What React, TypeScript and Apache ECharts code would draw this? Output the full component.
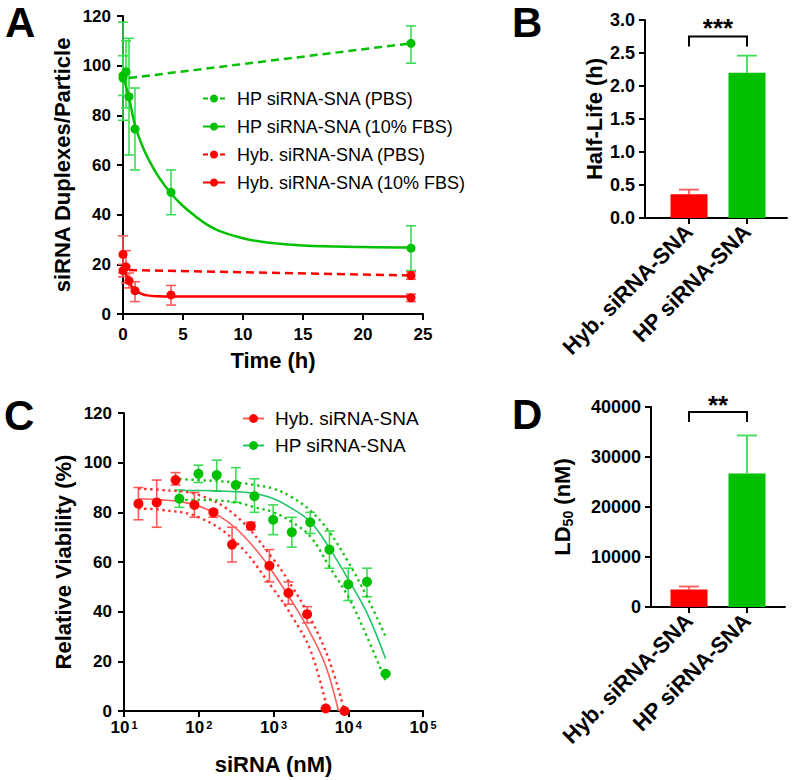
import React, { useEffect, useRef } from "react";
import * as echarts from "echarts";

// ---------- Panel A data (time in h, duplexes/particle) ----------
const hpFbsTime = [0, 0.25, 0.5, 1, 4, 24];
const hpFbsMean = [95, 97.5, 87.5, 74.5, 49, 26.5];
const hpFbsLow = [78, 83, 64, 58, 40, 17.5];
const hpFbsHigh = [117.5, 110, 111, 91, 58, 35.5];
const hpPbsTime = [0, 24];
const hpPbsMean = [96, 109];
const hpPbsLow = [88, 101];
const hpPbsHigh = [104, 116];
const hybFbsTime = [0, 0.25, 0.5, 1, 4, 24];
const hybFbsMean = [24, 19, 13.4, 9.4, 7.7, 6.5];
const hybFbsLow = [16.5, 12.5, 10.5, 5, 3.6, 5];
const hybFbsHigh = [31.5, 25.5, 16.5, 13, 11.5, 8];
const hybPbsTime = [0, 24];
const hybPbsMean = [17.5, 15.5];
const hybPbsLow = [15, 14];
const hybPbsHigh = [20, 17];

// fitted curves
const hpFbsFit = [[0, 96], [0.5, 87], [1, 76], [1.5, 69], [2, 63.5], [3, 55], [4, 48.5], [5, 43.5], [6, 39.5], [7, 36], [8, 33.5], [10, 30.5], [12, 28.8], [15, 27.6], [20, 27], [24, 26.8]];
const hpPbsFit = [[0.5, 95], [24, 109]];
const hybFbsFit = [[0, 20], [0.25, 16], [0.5, 13], [0.75, 11], [1, 9.6], [1.5, 8.2], [2, 7.5], [3, 7.1], [4, 7], [24, 7]];
const hybPbsFit = [[0.5, 17.7], [24, 15.5]];

const legendA = ["HP siRNA-SNA (PBS)", "HP siRNA-SNA (10% FBS)", "Hyb. siRNA-SNA (PBS)", "Hyb. siRNA-SNA (10% FBS)"];
const legendADashed = [true, false, true, false];

// ---------- Panel B / D ----------
const barCategories = ["Hyb. siRNA-SNA", "HP siRNA-SNA"];
const halfLife = [0.36, 2.2];
const halfLifeHigh = [0.43, 2.46];
const ld50 = [3500, 26700];
const ld50High = [4100, 34300];

// ---------- Panel C data (siRNA nM, viability %) ----------
const hybConc = [15.6, 27.4, 49, 87.5, 157, 279, 497, 881, 1585, 2818, 5000, 8900];
const hybViab = [83.5, 84, 93, 83, 80, 67, 74.5, 58.5, 47.5, 39, 1, 0];
const hybViabLow = [77, 74, 91, 78, 78, 60, 73, 52, 43, 35.5, 1, 0];
const hybViabHigh = [90, 93, 96, 88, 81, 74, 76, 65, 52, 42, 1, 0];
const hpConc = [55, 99, 174, 313, 556, 989, 1758, 3100, 5600, 10000, 17800, 31600];
const hpViab = [85.5, 95.5, 95, 91, 86.5, 77, 72, 76, 65, 51, 52, 15];
const hpViabLow = [82, 92, 88.5, 84, 80, 71, 66, 71.5, 57.5, 44.5, 46, 15];
const hpViabHigh = [89, 99, 101, 98, 93.5, 83, 78, 80, 72.5, 57.5, 57.5, 15];

const hybFit = [[15.5, 85.5], [31.6, 85], [56, 84.3], [100, 82.5], [178, 79], [316, 73.5], [562, 65.5], [1000, 55.5], [1778, 44], [3162, 31], [5012, 18], [7400, 0]];
const hybUpper = [[15.5, 89.5], [31.6, 89], [100, 87], [316, 78.5], [1000, 61], [1778, 50], [3162, 37], [5623, 20], [8900, 0]];
const hybLower = [[15.5, 81.5], [31.6, 81], [100, 78], [316, 68], [1000, 49], [1778, 38], [3162, 24], [5300, 0]];
const hpFit = [[55, 88.8], [100, 88.8], [316, 88.3], [562, 87.5], [1000, 85.5], [1778, 81.5], [3162, 76], [5623, 65.5], [10000, 53], [17783, 39.5], [31600, 21]];
const hpUpper = [[55, 93.4], [100, 93], [316, 92], [562, 91], [1000, 89.5], [1778, 86], [3162, 80.5], [5623, 72], [10000, 60], [17783, 46], [31600, 30]];
const hpLower = [[55, 85], [100, 85], [316, 84], [562, 82], [1000, 80], [1778, 76], [3162, 70], [5623, 58], [10000, 46], [17783, 30], [31600, 12]];

const FONT = "'Liberation Sans', Arial, sans-serif";
const GREEN = "#00c000";
const GREEN_ERR = "#3ddc55";
const RED = "#ff0000";
const RED_ERR = "#ff5a5a";

function zip3(a: number[], b: number[], c: number[]) {
  return a.map((v, i) => [v, b[i], c[i]]);
}
function zip2(a: number[], b: number[]) {
  return a.map((v, i) => [v, b[i]]);
}

function errRender(half: number, color: string, width: number, upperOnly = false) {
  return (_p: any, api: any) => {
    const x = api.value(0);
    const lo = api.value(1);
    const hi = api.value(2);
    const a = api.coord([x, lo]);
    const b = api.coord([x, hi]);
    const st = { stroke: color, lineWidth: width };
    const children: any[] = [
      { type: "line", shape: { x1: a[0], y1: a[1], x2: b[0], y2: b[1] }, style: st },
      { type: "line", shape: { x1: b[0] - half, y1: b[1], x2: b[0] + half, y2: b[1] }, style: st },
    ];
    if (!upperOnly) children.push({ type: "line", shape: { x1: a[0] - half, y1: a[1], x2: a[0] + half, y2: a[1] }, style: st });
    return { type: "group", children };
  };
}

function bracketRender(textGap: number, stars: string) {
  return (_p: any, api: any) => {
    const top = api.value(2);
    const leg = api.value(3);
    const a = api.coord([api.value(0), leg]);
    const b = api.coord([api.value(0), top]);
    const c = api.coord([api.value(1), top]);
    const d = api.coord([api.value(1), leg]);
    return {
      type: "group",
      children: [
        { type: "polyline", shape: { points: [a, b, c, d] }, style: { stroke: "#000", lineWidth: 2, fill: "none" } },
        {
          type: "text",
          x: (b[0] + c[0]) / 2,
          y: b[1] - textGap,
          style: { text: stars, fontSize: 26, fontWeight: "bold", fontFamily: FONT, fill: "#000", align: "center", verticalAlign: "middle" },
        },
      ],
    };
  };
}

const tickLabel = { fontSize: 17, fontWeight: "bold" as const, fontFamily: FONT, color: "#000" };
const tickLabelBar = { fontSize: 18, fontWeight: "bold" as const, fontFamily: FONT, color: "#000" };
const axisLineStyle = { show: true, lineStyle: { color: "#000", width: 2 } };
const axisTickStyle = { show: true, length: 6, lineStyle: { color: "#000", width: 2 } };
const titleStyle = { fontSize: 22, fontWeight: "bold" as const, fontFamily: FONT, color: "#000" };
const letterStyle = { fontSize: 42, fontWeight: "bold", fontFamily: FONT, fill: "#000", verticalAlign: "top" };

export default function App() {
  const ref = useRef<HTMLDivElement>(null);
  useEffect(() => {
    if (!ref.current) return;
    const chart = echarts.init(ref.current, undefined, { renderer: "svg" });
    const option: any = {
      animation: false,
      backgroundColor: "#fff",
      grid: [
        { left: 123, top: 16, width: 300, height: 298 },
        { left: 645, top: 20, width: 142, height: 198 },
        { left: 660, top: 20, width: 116, height: 198 },
        { left: 124, top: 413, width: 299, height: 298 },
        { left: 651, top: 407, width: 134, height: 200 },
        { left: 660, top: 407, width: 116, height: 200 },
      ],
      xAxis: [
        {
          gridIndex: 0, type: "value", min: 0, max: 25, interval: 5,
          axisLine: axisLineStyle, axisTick: axisTickStyle, splitLine: { show: false },
          axisLabel: { ...tickLabel, margin: 12 },
          name: "Time (h)", nameLocation: "middle", nameGap: 35, nameTextStyle: titleStyle,
        },
        { gridIndex: 1, type: "value", min: 0, max: 1, axisLine: axisLineStyle, axisTick: { show: false }, axisLabel: { show: false }, splitLine: { show: false } },
        {
          gridIndex: 2, type: "category", data: barCategories,
          axisLine: { show: false }, axisTick: { ...axisTickStyle, alignWithLabel: true },
          axisLabel: { ...tickLabel, fontSize: 22, rotate: 45, margin: 10 },
        },
        {
          gridIndex: 3, type: "log", logBase: 10, min: 10, max: 100000,
          axisLine: axisLineStyle, axisTick: axisTickStyle, splitLine: { show: false }, minorTick: { show: false },
          axisLabel: {
            margin: 8,
            formatter: (v: number) => `{b|10}{s|${Math.round(Math.log10(v))}}`,
            rich: {
              b: { fontSize: 17, fontWeight: "bold", fontFamily: FONT, color: "#000" },
              s: { fontSize: 11, fontWeight: "bold", fontFamily: FONT, color: "#000", verticalAlign: "top", padding: [0, 0, 0, 2] },
            },
          },
          name: "siRNA (nM)", nameLocation: "middle", nameGap: 42, nameTextStyle: titleStyle,
        },
        { gridIndex: 4, type: "value", min: 0, max: 1, axisLine: axisLineStyle, axisTick: { show: false }, axisLabel: { show: false }, splitLine: { show: false } },
        {
          gridIndex: 5, type: "category", data: barCategories,
          axisLine: { show: false }, axisTick: { ...axisTickStyle, alignWithLabel: true },
          axisLabel: { ...tickLabel, fontSize: 22, rotate: 45, margin: 10 },
        },
      ],
      yAxis: [
        {
          gridIndex: 0, type: "value", min: 0, max: 120, interval: 20,
          axisLine: axisLineStyle, axisTick: axisTickStyle, splitLine: { show: false },
          axisLabel: { ...tickLabel, margin: 12 },
          name: "siRNA Duplexes/Particle", nameLocation: "middle", nameGap: 50, nameTextStyle: titleStyle,
        },
        {
          gridIndex: 1, type: "value", min: 0, max: 3, interval: 0.5,
          axisLine: axisLineStyle, axisTick: axisTickStyle, splitLine: { show: false },
          axisLabel: { ...tickLabelBar, margin: 10, formatter: (v: number) => v.toFixed(1) },
          name: "Half-Life (h)", nameLocation: "middle", nameGap: 40, nameTextStyle: titleStyle,
        },
        { gridIndex: 2, type: "value", min: 0, max: 3, show: false },
        {
          gridIndex: 3, type: "value", min: 0, max: 120, interval: 20,
          axisLine: axisLineStyle, axisTick: axisTickStyle, splitLine: { show: false },
          axisLabel: { ...tickLabel, margin: 12 },
          name: "Relative Viability (%)", nameLocation: "middle", nameGap: 50, nameTextStyle: titleStyle,
        },
        {
          gridIndex: 4, type: "value", min: 0, max: 40000, interval: 10000,
          axisLine: axisLineStyle, axisTick: axisTickStyle, splitLine: { show: false },
          axisLabel: { ...tickLabelBar, margin: 10, formatter: (v: number) => String(v) },
          name: "{t|LD}{s|50}{t| (nM)}", nameLocation: "middle", nameGap: 76,
          nameTextStyle: {
            rich: {
              t: { fontSize: 22, lineHeight: 26, fontWeight: "bold", fontFamily: FONT, color: "#000" },
              s: { fontSize: 14, lineHeight: 12, fontWeight: "bold", fontFamily: FONT, color: "#000", verticalAlign: "bottom" },
            },
          },
        },
        { gridIndex: 5, type: "value", min: 0, max: 40000, show: false },
      ],
      legend: [
        {
          data: legendA.map((n, i) => (legendADashed[i] ? { name: n, lineStyle: { type: [5, 3.5] } } : { name: n })),
          orient: "vertical", left: 202, top: 89, padding: 0, itemWidth: 22, itemHeight: 10, itemGap: 9,
          selectedMode: false,
          textStyle: { fontSize: 18, lineHeight: 19, fontFamily: FONT, color: "#000", padding: [0, 0, 0, 7] },
        },
        {
          data: barCategories, orient: "vertical", left: 242, top: 409, padding: 0, itemWidth: 21, itemHeight: 11, itemGap: 8,
          selectedMode: false,
          textStyle: { fontSize: 19, lineHeight: 19, fontFamily: FONT, color: "#000", padding: [0, 0, 0, 6] },
        },
      ],
      graphic: [
        { type: "text", x: 5, y: 1, style: { text: "A", ...letterStyle } },
        { type: "text", x: 512, y: 1, style: { text: "B", ...letterStyle } },
        { type: "text", x: 4, y: 394, style: { text: "C", ...letterStyle } },
        { type: "text", x: 512, y: 393, style: { text: "D", ...letterStyle } },
      ],
      series: [
        // ----- Panel A fits (legend entries) -----
        { name: legendA[0], type: "line", xAxisIndex: 0, yAxisIndex: 0, data: hpPbsFit, showSymbol: false, symbol: "circle", lineStyle: { color: GREEN, width: 2.5, type: [8, 5] }, itemStyle: { color: GREEN }, silent: true },
        { name: legendA[1], type: "line", xAxisIndex: 0, yAxisIndex: 0, data: hpFbsFit, smooth: 0.4, showSymbol: false, symbol: "circle", lineStyle: { color: GREEN, width: 2.5 }, itemStyle: { color: GREEN }, silent: true },
        { name: legendA[2], type: "line", xAxisIndex: 0, yAxisIndex: 0, data: hybPbsFit, showSymbol: false, symbol: "circle", lineStyle: { color: RED, width: 2.5, type: [8, 5] }, itemStyle: { color: RED }, silent: true },
        { name: legendA[3], type: "line", xAxisIndex: 0, yAxisIndex: 0, data: hybFbsFit, smooth: 0.4, showSymbol: false, symbol: "circle", lineStyle: { color: RED, width: 2.5 }, itemStyle: { color: RED }, silent: true },
        // ----- Panel A error bars -----
        { type: "custom", xAxisIndex: 0, yAxisIndex: 0, data: zip3(hpFbsTime, hpFbsLow, hpFbsHigh), renderItem: errRender(5, GREEN_ERR, 1.6), silent: true, z: 1 },
        { type: "custom", xAxisIndex: 0, yAxisIndex: 0, data: zip3(hpPbsTime, hpPbsLow, hpPbsHigh), renderItem: errRender(5, GREEN_ERR, 1.6), silent: true, z: 1 },
        { type: "custom", xAxisIndex: 0, yAxisIndex: 0, data: zip3(hybFbsTime, hybFbsLow, hybFbsHigh), renderItem: errRender(5, RED_ERR, 1.6), silent: true, z: 1 },
        { type: "custom", xAxisIndex: 0, yAxisIndex: 0, data: zip3(hybPbsTime, hybPbsLow, hybPbsHigh), renderItem: errRender(5, RED_ERR, 1.6), silent: true, z: 1 },
        // ----- Panel A points -----
        { name: "hpFbsPts", type: "scatter", xAxisIndex: 0, yAxisIndex: 0, data: zip2(hpFbsTime, hpFbsMean), symbolSize: 9, itemStyle: { color: GREEN, opacity: 1 }, z: 3 },
        { name: "hpPbsPts", type: "scatter", xAxisIndex: 0, yAxisIndex: 0, data: zip2(hpPbsTime, hpPbsMean), symbolSize: 9, itemStyle: { color: GREEN, opacity: 1 }, z: 3 },
        { name: "hybFbsPts", type: "scatter", xAxisIndex: 0, yAxisIndex: 0, data: zip2(hybFbsTime, hybFbsMean), symbolSize: 9, itemStyle: { color: RED, opacity: 1 }, z: 3 },
        { name: "hybPbsPts", type: "scatter", xAxisIndex: 0, yAxisIndex: 0, data: zip2(hybPbsTime, hybPbsMean), symbolSize: 9, itemStyle: { color: RED, opacity: 1 }, z: 3 },

        // ----- Panel B -----
        {
          type: "bar", xAxisIndex: 2, yAxisIndex: 2, barWidth: 37,
          data: halfLife.map((v, i) => ({ value: v, itemStyle: { color: i === 0 ? RED : GREEN } })), silent: true,
        },
        { type: "custom", xAxisIndex: 2, yAxisIndex: 2, data: halfLife.map((v, i) => [i, v, halfLifeHigh[i]]), renderItem: (p: any, api: any) => errRender(10, api.value(0) === 0 ? RED_ERR : GREEN_ERR, 1.8, true)(p, api), silent: true, z: 3 },
        { type: "custom", xAxisIndex: 2, yAxisIndex: 2, data: [[0, 1, 2.75, 2.6]], renderItem: bracketRender(9, "***"), silent: true, z: 3 },

        // ----- Panel C -----
        { name: barCategories[0], type: "line", xAxisIndex: 3, yAxisIndex: 3, data: hybFit, smooth: 0.4, showSymbol: false, symbol: "circle", lineStyle: { color: "#ff5c5c", width: 1.6 }, itemStyle: { color: RED }, silent: true },
        { name: barCategories[1], type: "line", xAxisIndex: 3, yAxisIndex: 3, data: hpFit, smooth: 0.4, showSymbol: false, symbol: "circle", lineStyle: { color: "#20c468", width: 1.6 }, itemStyle: { color: GREEN }, silent: true },
        { type: "line", xAxisIndex: 3, yAxisIndex: 3, data: hybUpper, smooth: 0.4, showSymbol: false, lineStyle: { color: "#ff3030", width: 2.4, type: [2.4, 3.6] }, silent: true },
        { type: "line", xAxisIndex: 3, yAxisIndex: 3, data: hybLower, smooth: 0.4, showSymbol: false, lineStyle: { color: "#ff3030", width: 2.4, type: [2.4, 3.6] }, silent: true },
        { type: "line", xAxisIndex: 3, yAxisIndex: 3, data: hpUpper, smooth: 0.4, showSymbol: false, lineStyle: { color: "#19c419", width: 2.4, type: [2.4, 3.6] }, silent: true },
        { type: "line", xAxisIndex: 3, yAxisIndex: 3, data: hpLower, smooth: 0.4, showSymbol: false, lineStyle: { color: "#19c419", width: 2.4, type: [2.4, 3.6] }, silent: true },
        { type: "custom", xAxisIndex: 3, yAxisIndex: 3, data: zip3(hybConc, hybViabLow, hybViabHigh), renderItem: errRender(5, RED_ERR, 1.6), silent: true, z: 1 },
        { type: "custom", xAxisIndex: 3, yAxisIndex: 3, data: zip3(hpConc, hpViabLow, hpViabHigh), renderItem: errRender(5, GREEN_ERR, 1.6), silent: true, z: 1 },
        { name: "hybPts", type: "scatter", xAxisIndex: 3, yAxisIndex: 3, data: zip2(hybConc, hybViab), symbolSize: 10, itemStyle: { color: RED, opacity: 1 }, z: 3 },
        { name: "hpPts", type: "scatter", xAxisIndex: 3, yAxisIndex: 3, data: zip2(hpConc, hpViab), symbolSize: 10, itemStyle: { color: GREEN, opacity: 1 }, z: 3 },

        // ----- Panel D -----
        {
          type: "bar", xAxisIndex: 5, yAxisIndex: 5, barWidth: 37,
          data: ld50.map((v, i) => ({ value: v, itemStyle: { color: i === 0 ? RED : GREEN } })), silent: true,
        },
        { type: "custom", xAxisIndex: 5, yAxisIndex: 5, data: ld50.map((v, i) => [i, v, ld50High[i]]), renderItem: (p: any, api: any) => errRender(10, api.value(0) === 0 ? RED_ERR : GREEN_ERR, 1.8, true)(p, api), silent: true, z: 3 },
        { type: "custom", xAxisIndex: 5, yAxisIndex: 5, data: [[0, 1, 39000, 37000]], renderItem: bracketRender(7, "**"), silent: true, z: 3 },
      ],
    };
    chart.setOption(option);
    return () => chart.dispose();
  }, []);
  return <div ref={ref} style={{ position: "absolute", left: 0, top: 0, width: 792, height: 780, background: "#fff" }} />;
}
